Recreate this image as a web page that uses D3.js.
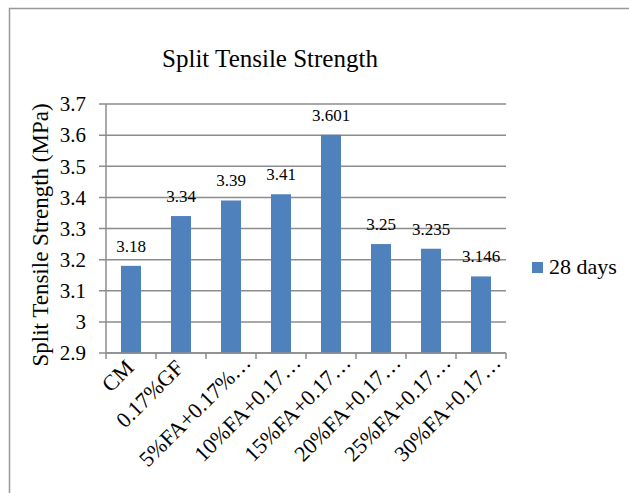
<!DOCTYPE html>
<html><head><meta charset="utf-8">
<script src="https://cdn.jsdelivr.net/npm/d3@7"></script>
<style>body{margin:0;background:#fff}svg{display:block}svg text{font-family:"Liberation Serif","Times New Roman","DejaVu Serif",serif;fill:#000}</style>
</head><body>
<script>
const categories = ["CM","0.17%GF","5%FA+0.17%…","10%FA+0.17…","15%FA+0.17…","20%FA+0.17…","25%FA+0.17…","30%FA+0.17…"];
const values28 = [3.18,3.34,3.39,3.41,3.601,3.25,3.235,3.146];
const valueLabels = ["3.18","3.34","3.39","3.41","3.601","3.25","3.235","3.146"];
const yTicks = [2.9,3,3.1,3.2,3.3,3.4,3.5,3.6,3.7];
const seriesName = "28 days";
const title = "Split Tensile Strength";
const yTitle = "Split Tensile Strength (MPa)";

const W=629,H=493;
const m={l:106,t:104,r:506,b:353};
const grid="#8c8c8c";
const svg=d3.select("body").append("svg").attr("width",W).attr("height",H);
svg.append("rect").attr("x",9.5).attr("y",8.5).attr("width",W+20).attr("height",H+20)
  .attr("fill","#fff").attr("stroke","#999").attr("stroke-width",1.5);

const x=d3.scaleBand().domain(categories).range([m.l,m.r]).paddingInner(0.6).paddingOuter(0.3);
const xb=d3.scaleBand().domain(categories).range([m.l,m.r]);
const y=d3.scaleLinear().domain([2.9,3.7]).range([m.b,m.t]);

// gridlines
svg.append("g").selectAll("line").data(yTicks).join("line")
  .attr("x1",m.l-7).attr("x2",m.r).attr("y1",d=>y(d)).attr("y2",d=>y(d))
  .attr("stroke",grid).attr("stroke-width",1.5);
// y labels
svg.append("g").selectAll("text").data(yTicks).join("text")
  .attr("x",m.l-20).attr("y",d=>y(d)).attr("dy","0.35em").attr("text-anchor","end")
  .attr("font-size",21).text(d=>d===3?"3":d3.format(".1f")(d));
// y axis line
svg.append("line").attr("x1",m.l).attr("x2",m.l).attr("y1",m.t).attr("y2",m.b)
  .attr("stroke",grid).attr("stroke-width",1.5);
// bars
svg.append("g").selectAll("rect").data(values28).join("rect")
  .attr("x",(d,i)=>x(categories[i])).attr("width",x.bandwidth())
  .attr("y",d=>y(d)).attr("height",d=>m.b-y(d)).attr("fill","#4f81bd");
// x axis
svg.append("line").attr("x1",m.l).attr("x2",m.r).attr("y1",m.b).attr("y2",m.b)
  .attr("stroke",grid).attr("stroke-width",1.5);
const ticks=categories.map(c=>xb(c)).concat([m.r]);
svg.append("g").selectAll("line").data(ticks).join("line")
  .attr("x1",d=>d).attr("x2",d=>d).attr("y1",m.b).attr("y2",m.b+6)
  .attr("stroke",grid).attr("stroke-width",1.5);
// value labels
svg.append("g").selectAll("text").data(values28).join("text")
  .attr("x",(d,i)=>x(categories[i])+x.bandwidth()/2).attr("y",d=>y(d)-14)
  .attr("text-anchor","middle").attr("font-size",17)
  .text((d,i)=>valueLabels[i]);
// x labels
svg.append("g").selectAll("text").data(categories).join("text")
  .attr("transform",c=>{
    const cx=xb(c)+xb.bandwidth()/2;
    const trunc=c.endsWith("…");
    return `translate(${cx+(trunc?21:4)},${m.b+(trunc?11:16)}) rotate(-45)`;})
  .attr("text-anchor","end").attr("font-size",22).text(c=>c);
// title
svg.append("text").attr("x",270).attr("y",67).attr("text-anchor","middle")
  .attr("font-size",25).text(title);
// y title
svg.append("text").attr("transform","translate(48,235) rotate(-90)").attr("text-anchor","middle")
  .attr("font-size",23).text(yTitle);
// legend
svg.append("rect").attr("x",532).attr("y",262).attr("width",11).attr("height",11).attr("fill","#4f81bd");
svg.append("text").attr("x",549).attr("y",274).attr("font-size",22).text(seriesName);
</script>
</body></html>
